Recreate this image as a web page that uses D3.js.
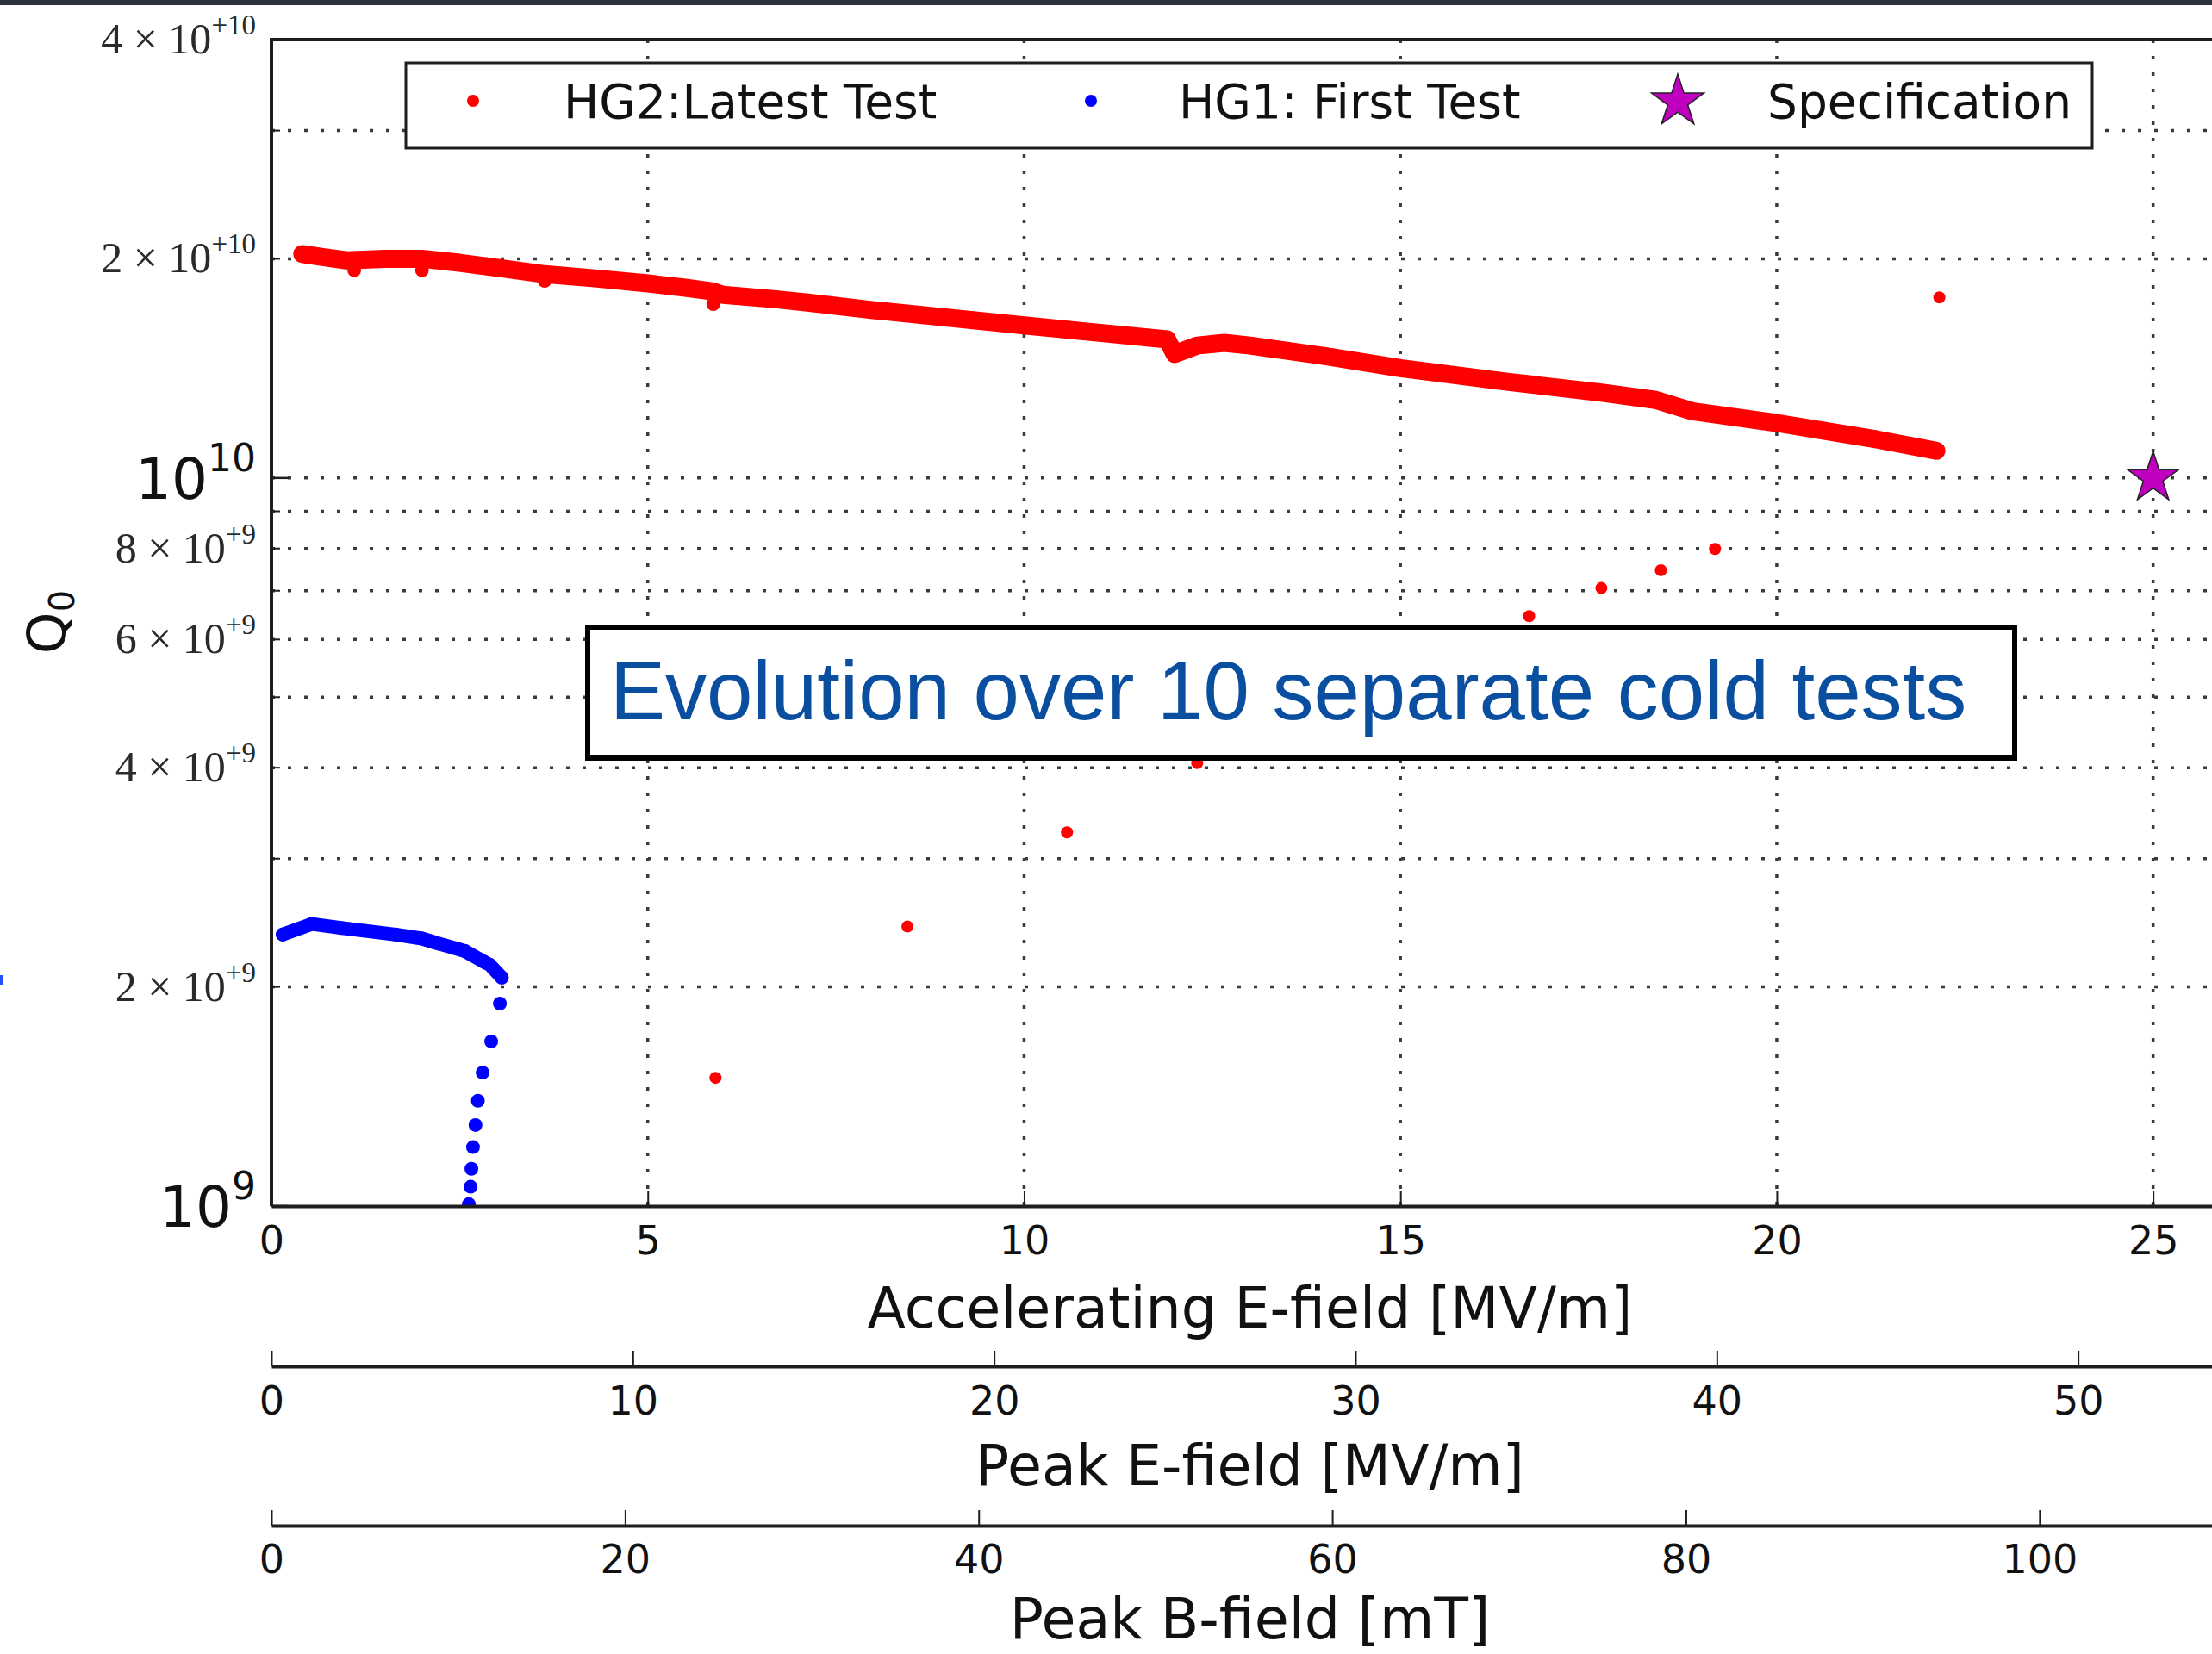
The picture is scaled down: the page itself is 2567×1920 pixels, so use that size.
<!DOCTYPE html>
<html><head><meta charset="utf-8">
<script src="https://cdn.jsdelivr.net/npm/d3@7"></script>
<style>body{margin:0;background:#fff}svg{display:block}</style>
</head><body>
<svg id="c" width="2567" height="1920"></svg>
<script>
// ---------------- DATA ----------------
// HG2: latest test, dense measured curve (Eacc [MV/m], Q0)
const hg2LatestE = [0.41, 0.7, 1.0, 1.5, 2.0, 2.5, 3.07, 3.63, 4.3, 5.0, 5.5, 5.85, 6.0, 6.7, 7.15, 8.0, 10.0, 11.9, 12.0, 12.3, 12.66, 13.0, 14.0, 15.0, 16.44, 17.67, 18.39, 18.88, 20.0, 21.32, 22.12];
const hg2LatestQ = [2.03e10, 2.01e10, 1.99e10, 2.0e10, 2.0e10, 1.975e10, 1.94e10, 1.905e10, 1.88e10, 1.85e10, 1.825e10, 1.805e10, 1.785e10, 1.76e10, 1.74e10, 1.70e10, 1.62e10, 1.55e10, 1.48e10, 1.52e10, 1.533e10, 1.52e10, 1.47e10, 1.415e10, 1.355e10, 1.31e10, 1.28e10, 1.235e10, 1.19e10, 1.13e10, 1.09e10];
// HG2: small downward spikes in the latest test
const hg2SpikeE = [1.1, 2.0, 3.63, 5.87];
const hg2SpikeQ = [1.93e10, 1.93e10, 1.865e10, 1.733e10];
// HG2: end points of the earlier cold tests
const hg2EarlierE = [5.90, 8.45, 10.57, 12.30, 16.71, 17.67, 18.46, 19.18, 22.16];
const hg2EarlierQ = [1.50e9, 2.42e9, 3.26e9, 4.06e9, 6.46e9, 7.06e9, 7.47e9, 7.99e9, 1.77e10];
// HG1: first test, dense part and quench tail
const hg1BandE = [0.15, 0.54, 0.92, 1.65, 2.0, 2.18, 2.57, 2.84, 2.9, 3.06];
const hg1BandQ = [2.36e9, 2.44e9, 2.41e9, 2.36e9, 2.33e9, 2.30e9, 2.24e9, 2.16e9, 2.145e9, 2.06e9];
const hg1TailE = [3.035, 2.92, 2.806, 2.743, 2.711, 2.678, 2.657, 2.646, 2.623];
const hg1TailQ = [1.897e9, 1.683e9, 1.525e9, 1.395e9, 1.292e9, 1.205e9, 1.125e9, 1.063e9, 1.006e9];
// Specification
const specE = [25];
const specQ = [1e10];
// Axes
const xDomainMax = 26;
const epkPerEacc = 2.083;
const bpkPerEacc = 4.257;
const xTicks = [0, 5, 10, 15, 20, 25];
const epkTicks = [0, 10, 20, 30, 40, 50];
const bpkTicks = [0, 20, 40, 60, 80, 100];
const yMajorTicks = [1e9, 1e10];
const yMajorLabels = [["10", "9"], ["10", "10"]];
const yMinorLabelTicks = [2e9, 4e9, 6e9, 8e9, 2e10, 4e10];
const yMinorLabels = [["2 \u00d7 10", "+9"], ["4 \u00d7 10", "+9"], ["6 \u00d7 10", "+9"], ["8 \u00d7 10", "+9"], ["2 \u00d7 10", "+10"], ["4 \u00d7 10", "+10"]];
const yMinorTicks = [2e9, 3e9, 4e9, 5e9, 6e9, 7e9, 8e9, 9e9, 2e10, 3e10];
const yGridTicks = [2e9, 3e9, 4e9, 5e9, 6e9, 7e9, 8e9, 9e9, 1e10, 2e10, 3e10];
const xGridTicks = [5, 10, 15, 20, 25];
const legendLabels = ["HG2:Latest Test", "HG1: First Test", "Specification"];
const noteText = "Evolution over 10 separate cold tests";

// ---------------- LAYOUT ----------------
const L = 315, R = 2586, T = 46, B = 1400;
const svg = d3.select('#c');
const x = d3.scaleLinear().domain([0, xDomainMax]).range([L, R]);
const y = d3.scaleLog().domain([1e9, 4e10]).range([B, T]);
const xe = d3.scaleLinear().domain([0, xDomainMax * epkPerEacc]).range([L, R]);
const xb = d3.scaleLinear().domain([0, xDomainMax * bpkPerEacc]).range([L, R]);
const INK = '#1e1e1e';

// top dark strip and stray mark
svg.append('rect').attr('x', 0).attr('y', 0).attr('width', 2567).attr('height', 6).attr('fill', '#2c313b');
svg.append('rect').attr('x', 0).attr('y', 1132).attr('width', 3).attr('height', 11).attr('fill', '#2050ff');

// grid
const grid = svg.append('g').attr('stroke', '#3a3a3a').attr('stroke-width', 3.5).attr('stroke-dasharray', '4 15');
grid.selectAll('line.v').data(xGridTicks).join('line').attr('class', 'v')
  .attr('x1', d => x(d)).attr('x2', d => x(d)).attr('y1', T).attr('y2', B);
grid.selectAll('line.h').data(yGridTicks).join('line').attr('class', 'h')
  .attr('x1', L).attr('x2', R).attr('y1', d => y(d)).attr('y2', d => y(d));

// data
svg.append('clipPath').attr('id', 'clip').append('rect').attr('x', L).attr('y', T).attr('width', R - L).attr('height', B - T);
const data = svg.append('g').attr('clip-path', 'url(#clip)');
const zip = (a, b) => a.map((e, i) => ({e: e, q: b[i]}));
const line = d3.line().x(d => x(d.e)).y(d => y(d.q));

const hg2 = zip(hg2LatestE, hg2LatestQ);
data.append('path').datum(hg2).attr('d', line).attr('fill', 'none').attr('stroke', '#ff0000')
  .attr('stroke-width', 21).attr('stroke-linejoin', 'round').attr('stroke-linecap', 'round');
data.selectAll('circle.hg2').data(hg2.concat(zip(hg2SpikeE, hg2SpikeQ))).join('circle').attr('class', 'hg2')
  .attr('cx', d => x(d.e)).attr('cy', d => y(d.q)).attr('r', 8).attr('fill', '#ff0000');
data.selectAll('circle.hg2e').data(zip(hg2EarlierE, hg2EarlierQ)).join('circle').attr('class', 'hg2e')
  .attr('cx', d => x(d.e)).attr('cy', d => y(d.q)).attr('r', 7).attr('fill', '#ff0000');

const hg1 = zip(hg1BandE, hg1BandQ);
data.append('path').datum(hg1).attr('d', line).attr('fill', 'none').attr('stroke', '#0000ff')
  .attr('stroke-width', 16).attr('stroke-linejoin', 'round').attr('stroke-linecap', 'round');
data.selectAll('circle.hg1').data(hg1.concat(zip(hg1TailE, hg1TailQ))).join('circle').attr('class', 'hg1')
  .attr('cx', d => x(d.e)).attr('cy', d => y(d.q)).attr('r', 8).attr('fill', '#0000ff');

const star = d3.symbol(d3.symbolStar);
data.selectAll('path.spec').data(zip(specE, specQ)).join('path').attr('class', 'spec')
  .attr('d', star.size(1080)()).attr('transform', d => `translate(${x(d.e)},${y(d.q)})`)
  .attr('fill', '#bf00bf').attr('stroke', '#222').attr('stroke-width', 1.5);

// legend
const lg = svg.append('g');
lg.append('rect').attr('x', 471).attr('y', 73).attr('width', 1957).attr('height', 99)
  .attr('fill', '#fff').attr('stroke', INK).attr('stroke-width', 3);
const legX = [549, 1266, 1947];
const legTX = [654, 1368, 2051];
lg.append('circle').attr('cx', legX[0]).attr('cy', 117).attr('r', 7).attr('fill', '#ff0000');
lg.append('circle').attr('cx', legX[1]).attr('cy', 117).attr('r', 7).attr('fill', '#0000ff');
lg.append('path').attr('d', star.size(1150)()).attr('transform', `translate(${legX[2]},118)`)
  .attr('fill', '#bf00bf').attr('stroke', '#222').attr('stroke-width', 1.5);
lg.selectAll('text').data(legendLabels).join('text')
  .attr('x', (d, i) => legTX[i]).attr('y', 137).text(d => d)
  .attr('font-family', 'DejaVu Sans').attr('font-size', 55).attr('fill', '#111');

// annotation
svg.append('rect').attr('x', 682).attr('y', 728).attr('width', 1656).attr('height', 152)
  .attr('fill', '#fff').attr('stroke', '#000').attr('stroke-width', 6);
svg.append('text').attr('x', 708).attr('y', 835).text(noteText)
  .attr('font-family', 'Liberation Sans, Arial, sans-serif').attr('font-size', 96).attr('fill', '#0a4f9f');

// spines
svg.append('line').attr('x1', L).attr('x2', L).attr('y1', T - 2).attr('y2', B).attr('stroke', INK).attr('stroke-width', 4);
svg.append('line').attr('x1', L - 2).attr('x2', R).attr('y1', T).attr('y2', T).attr('stroke', INK).attr('stroke-width', 4);

// y ticks
svg.selectAll('line.ymaj').data(yMajorTicks).join('line').attr('class', 'ymaj')
  .attr('x1', L).attr('x2', L + 20).attr('y1', d => y(d)).attr('y2', d => y(d)).attr('stroke', INK).attr('stroke-width', 2.5);
svg.selectAll('line.ymin').data(yMinorTicks).join('line').attr('class', 'ymin')
  .attr('x1', L).attr('x2', L + 10).attr('y1', d => y(d)).attr('y2', d => y(d)).attr('stroke', INK).attr('stroke-width', 2);

// y labels
const ymaj = svg.selectAll('text.ymaj').data(yMajorTicks).join('text').attr('class', 'ymaj')
  .attr('x', 297).attr('y', d => y(d) + 24).attr('text-anchor', 'end')
  .attr('font-family', 'DejaVu Sans').attr('fill', '#111');
ymaj.append('tspan').attr('font-size', 66).text((d, i) => yMajorLabels[i][0]);
ymaj.append('tspan').attr('font-size', 44).attr('dy', -32).text((d, i) => yMajorLabels[i][1]);
const ymin = svg.selectAll('text.ymin').data(yMinorLabelTicks).join('text').attr('class', 'ymin')
  .attr('x', 297).attr('y', d => y(d) + 16).attr('text-anchor', 'end')
  .attr('font-family', 'Liberation Serif, serif').attr('fill', '#2a2a2a');
ymin.append('tspan').attr('font-size', 50).text((d, i) => yMinorLabels[i][0]);
ymin.append('tspan').attr('font-size', 33).attr('dy', -22).text((d, i) => yMinorLabels[i][1]);

// y title Q0
const qt = svg.append('text').attr('transform', 'translate(76,722) rotate(-90)').attr('text-anchor', 'middle')
  .attr('font-family', 'DejaVu Sans').attr('fill', '#111');
qt.append('tspan').attr('font-size', 62).text('Q');
qt.append('tspan').attr('font-size', 40).attr('dy', 10).text('0');

// x axes
function drawAxis(scale, ticks, yPos, pad, title, titleY) {
  const g = svg.append('g').attr('transform', `translate(0,${yPos})`)
    .call(d3.axisBottom(scale).tickValues(ticks).tickSizeInner(-18).tickSizeOuter(0).tickPadding(pad).tickFormat(d3.format('d')));
  g.select('.domain').attr('stroke', INK).attr('stroke-width', 4);
  g.selectAll('.tick line').attr('stroke', INK).attr('stroke-width', 2);
  g.selectAll('.tick text').attr('font-family', 'DejaVu Sans').attr('font-size', 46).attr('fill', '#111');
  svg.append('text').attr('x', (L + R) / 2).attr('y', titleY).attr('text-anchor', 'middle').text(title)
    .attr('font-family', 'DejaVu Sans').attr('font-size', 65).attr('fill', '#111');
}
drawAxis(x, xTicks, B, 23, 'Accelerating E-field [MV/m]', 1541);
drawAxis(xe, epkTicks, 1586, 23, 'Peak E-field [MV/m]', 1724);
drawAxis(xb, bpkTicks, 1771, 22, 'Peak B-field [mT]', 1902);
</script>
</body></html>
